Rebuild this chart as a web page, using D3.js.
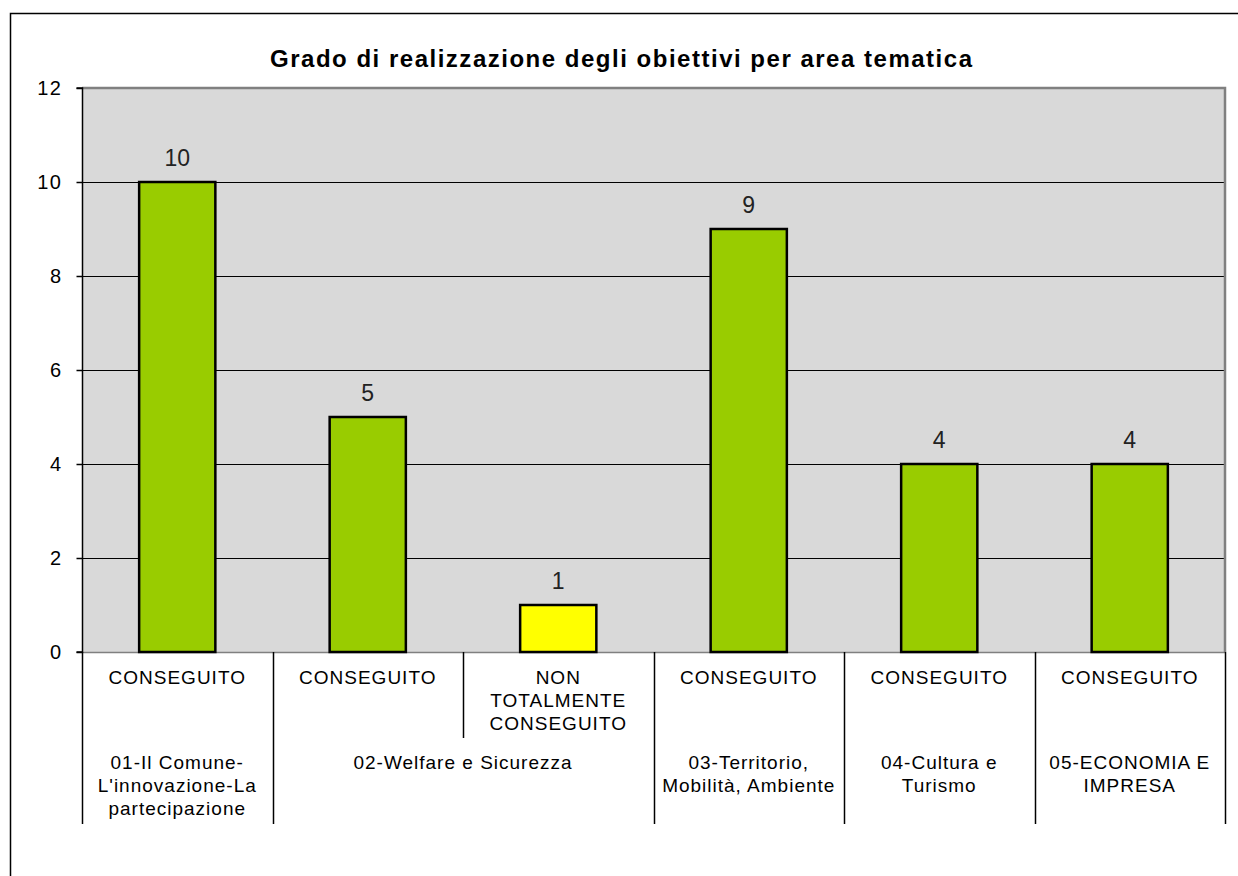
<!DOCTYPE html>
<html>
<head>
<meta charset="utf-8">
<script src="https://cdn.jsdelivr.net/npm/d3@7.9.0/dist/d3.min.js"></script>
<style>
  body { margin: 0; background: #fff; }
  svg text { font-family: "Liberation Sans", Arial, sans-serif; }
</style>
</head>
<body>
<svg id="chart" width="1238" height="876"></svg>
<script>
// Data
const areas    = ["01-Il Comune-\nL'innovazione-La\npartecipazione", "02-Welfare e Sicurezza",
                  "03-Territorio,\nMobilità, Ambiente", "04-Cultura e\nTurismo", "05-ECONOMIA E\nIMPRESA"];
const statuses = ["CONSEGUITO", "CONSEGUITO", "NON\nTOTALMENTE\nCONSEGUITO", "CONSEGUITO", "CONSEGUITO", "CONSEGUITO"];
const barArea  = [0, 1, 1, 2, 3, 4];
const values   = [10, 5, 1, 9, 4, 4];
const yTicks   = [0, 2, 4, 6, 8, 10, 12];
const title    = "Grado di realizzazione degli obiettivi per area tematica";

const svg = d3.select('#chart');

// Plot area
const pLeft = 82, pRight = 1225, pTop = 88, pBottom = 652;

// outer chart border (only top & left visible)
svg.append('path').attr('d', `M10.5,876 V13.5 H1238`).attr('fill', 'none').attr('stroke', '#000').attr('stroke-width', 1.5);

// title
svg.append('text')
  .attr('x', 621).attr('y', 67)
  .attr('text-anchor', 'middle')
  .attr('font-size', 24).attr('font-weight', 'bold')
  .attr('textLength', 702).attr('lengthAdjust', 'spacing')
  .text(title);

const idx = d3.range(values.length);
const x = d3.scaleBand().domain(idx).range([pLeft, pRight]).padding(0);
const y = d3.scaleLinear().domain([0, 12]).range([pBottom, pTop]);

// background
svg.append('rect').attr('x', pLeft).attr('y', pTop).attr('width', pRight - pLeft).attr('height', pBottom - pTop).attr('fill', '#d9d9d9');

// gridlines
svg.append('g').selectAll('line').data(yTicks.filter(d => d > 0 && d < 12)).join('line')
  .attr('x1', pLeft).attr('x2', pRight)
  .attr('y1', d => Math.round(y(d)) + 0.5).attr('y2', d => Math.round(y(d)) + 0.5)
  .attr('stroke', '#000').attr('stroke-width', 1);

// top & right border (gray)
svg.append('path').attr('d', `M${pLeft},${pTop} H${pRight} V${pBottom}`)
  .attr('fill', 'none').attr('stroke', '#808080').attr('stroke-width', 2.5);
// bottom line
svg.append('line').attr('x1', pLeft).attr('x2', pRight).attr('y1', pBottom + 0.5).attr('y2', pBottom + 0.5)
  .attr('stroke', '#808080').attr('stroke-width', 1.5);

// bars
const barW = x.bandwidth() * 0.4;
svg.append('g').selectAll('rect').data(idx).join('rect')
  .attr('x', i => x(i) + (x.bandwidth() - barW) / 2)
  .attr('y', i => y(values[i]))
  .attr('width', barW)
  .attr('height', i => y(0) - y(values[i]))
  .attr('fill', i => statuses[i].startsWith('NON') ? '#ffff00' : '#99cc00')
  .attr('stroke', '#000').attr('stroke-width', 2.5);

// value labels
svg.append('g').selectAll('text').data(idx).join('text')
  .attr('x', i => x(i) + x.bandwidth() / 2)
  .attr('y', i => y(values[i]) - 16)
  .attr('text-anchor', 'middle')
  .attr('font-size', 23).attr('fill', '#222')
  .text(i => values[i]);

// y axis
const yAxis = d3.axisLeft(y).tickValues(yTicks).tickSize(6).tickPadding(14);
const gy = svg.append('g').attr('transform', `translate(${pLeft + 0.5},0)`).call(yAxis);
gy.select('.domain').attr('stroke', '#000').attr('stroke-width', 1.5).attr('d', `M-6,${pTop}H0V${pBottom}H-6`);
gy.selectAll('.tick line').attr('stroke', '#000').attr('stroke-width', 1.5);
gy.selectAll('.tick text').attr('font-size', 20).attr('letter-spacing', 1.5).attr('fill', '#000')
  .attr('font-family', '"Liberation Sans", Arial, sans-serif');

// multi-level category axis
const lvl1Bottom = 738, lvl2Bottom = 824;
const g2 = svg.append('g');
// separators at each category boundary
d3.range(values.length + 1).forEach(k => {
  const xx = k < values.length ? x(k) : pRight;
  const groupEdge = k === 0 || k === values.length || barArea[k] !== barArea[k - 1];
  g2.append('line')
    .attr('x1', Math.round(xx) + 0.5).attr('x2', Math.round(xx) + 0.5)
    .attr('y1', pBottom).attr('y2', groupEdge ? lvl2Bottom : lvl1Bottom)
    .attr('stroke', '#000').attr('stroke-width', 1.5);
});

function multiline(sel, str, cx, y0, lh) {
  const t = sel.append('text').attr('text-anchor', 'middle').attr('font-size', 19)
    .attr('letter-spacing', 1).attr('fill', '#000');
  str.split('\n').forEach((s, j) => {
    t.append('tspan').attr('x', cx).attr('y', y0 + j * lh).text(s);
  });
}

// status labels
statuses.forEach((s, i) => multiline(g2, s, x(i) + x.bandwidth() / 2, 684, 23));

// area labels
areas.forEach((a, k) => {
  const members = idx.filter(i => barArea[i] === k);
  const x0 = x(members[0]), x1 = x(members[members.length - 1]) + x.bandwidth();
  multiline(g2, a, (x0 + x1) / 2, 769, 23);
});
</script>
</body>
</html>
